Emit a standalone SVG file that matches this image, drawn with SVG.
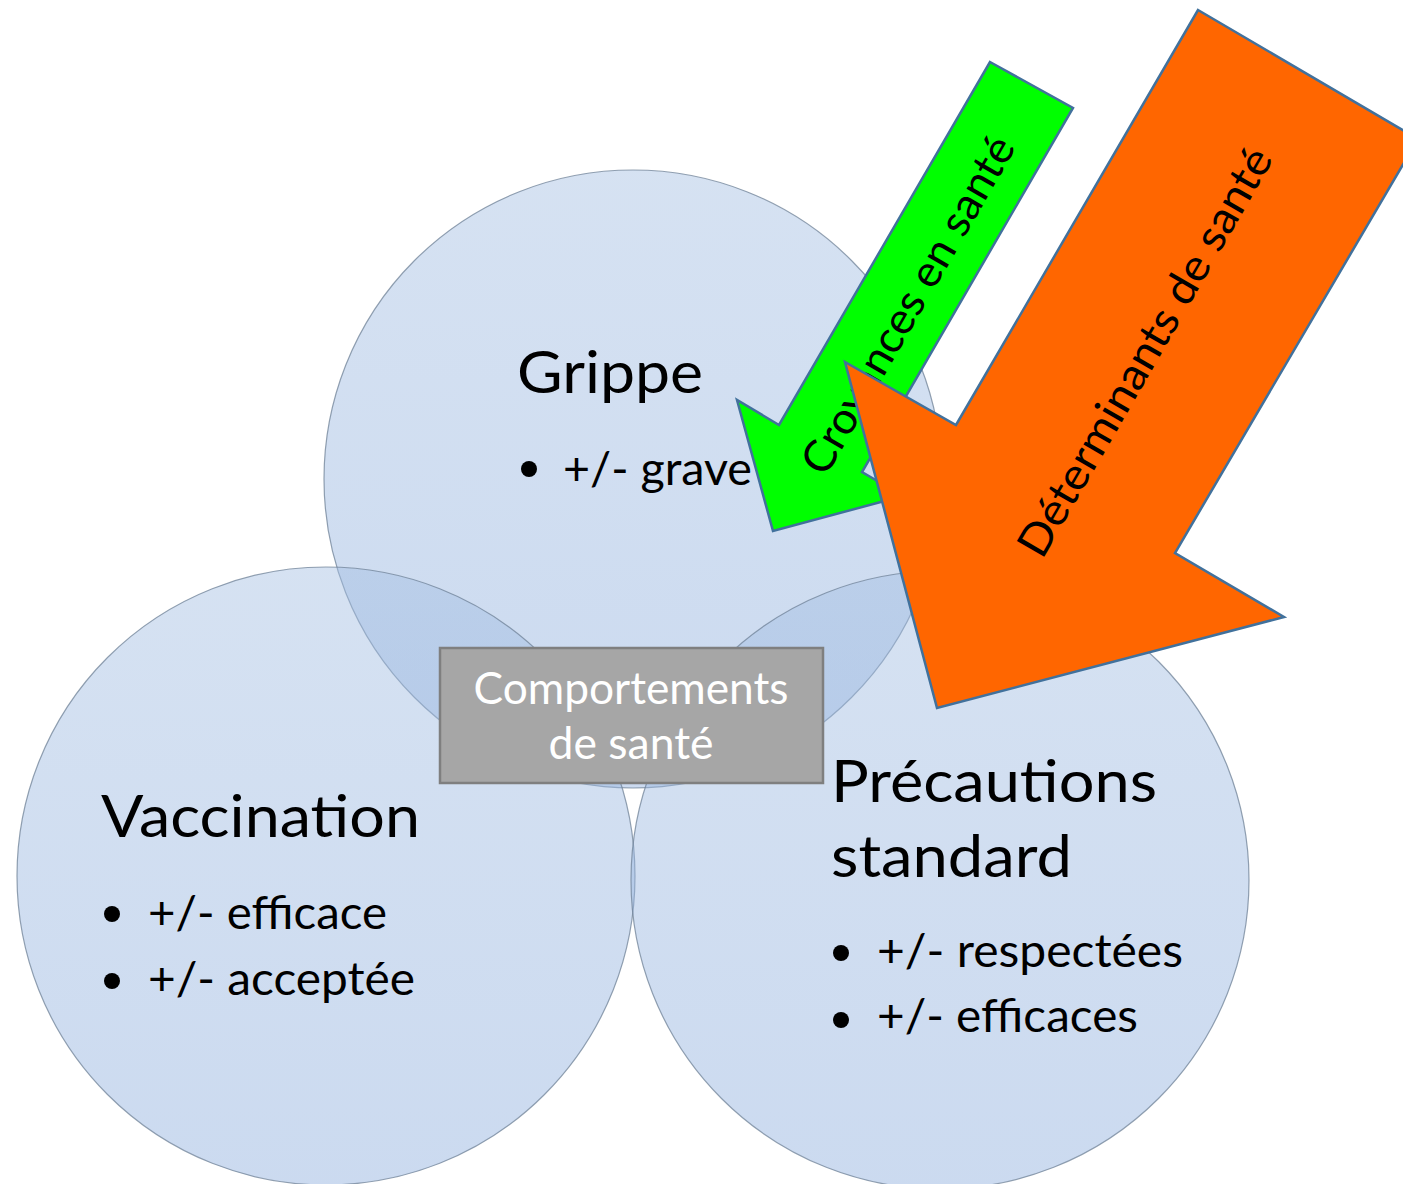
<svg xmlns="http://www.w3.org/2000/svg" width="1403" height="1184" viewBox="0 0 1403 1184">
  <defs>
    <linearGradient id="bubbleFill" x1="0" y1="0" x2="0" y2="1">
      <stop offset="0" stop-color="#A3BEE2"/>
      <stop offset="1" stop-color="#8CADDD"/>
    </linearGradient>
    <style>
      .bubble { fill: url(#bubbleFill); fill-opacity: 0.45; stroke: #6F8197; stroke-opacity: 0.75; stroke-width: 1.2; }
      .title { font-family: Lato, "Open Sans", "Liberation Sans", sans-serif; font-size: 58px; fill: #000; }
      .item { font-family: Lato, "Open Sans", "Liberation Sans", sans-serif; font-size: 46px; fill: #000; }
      .dot { fill: #000; }
      .boxText { font-family: Lato, "Open Sans", "Liberation Sans", sans-serif; font-size: 44px; fill: #FFFFFF; text-anchor: middle; }
      .arrowText { font-family: Lato, "Open Sans", "Liberation Sans", sans-serif; font-size: 44px; fill: #000; text-anchor: middle; }
      .blockArrow { stroke: #41719C; stroke-width: 2.5; stroke-linejoin: miter; }
    </style>
  </defs>

  <rect width="1403" height="1184" fill="#FFFFFF"/>

  <!-- three overlapping sets -->
  <g id="grippe">
    <circle class="bubble" cx="633" cy="479" r="309"/>
    <text class="title" x="517" y="393" textLength="186" lengthAdjust="spacingAndGlyphs">Grippe</text>
    <circle class="dot" cx="529" cy="469" r="8"/>
    <text class="item" x="563" y="485" textLength="189" lengthAdjust="spacingAndGlyphs">+/- grave</text>
  </g>

  <g id="vaccination">
    <circle class="bubble" cx="326" cy="876" r="309"/>
    <text class="title" x="101" y="837" textLength="319" lengthAdjust="spacingAndGlyphs">Vaccination</text>
    <circle class="dot" cx="112" cy="914" r="8"/>
    <text class="item" x="148" y="929" textLength="239" lengthAdjust="spacingAndGlyphs">+/- efficace</text>
    <circle class="dot" cx="112" cy="981" r="8"/>
    <text class="item" x="148" y="995" textLength="267" lengthAdjust="spacingAndGlyphs">+/- acceptée</text>
  </g>

  <g id="precautions">
    <circle class="bubble" cx="940" cy="880" r="309"/>
    <text class="title" x="831" y="802" textLength="326" lengthAdjust="spacingAndGlyphs">Précautions</text>
    <text class="title" x="831" y="877" textLength="241" lengthAdjust="spacingAndGlyphs">standard</text>
    <circle class="dot" cx="841" cy="953" r="8"/>
    <text class="item" x="877" y="967" textLength="306" lengthAdjust="spacingAndGlyphs">+/- respectées</text>
    <circle class="dot" cx="841" cy="1020" r="8"/>
    <text class="item" x="877" y="1032" textLength="261" lengthAdjust="spacingAndGlyphs">+/- efficaces</text>
  </g>

  <!-- centre label -->
  <g id="comportements">
    <rect x="440" y="648" width="383" height="135" fill="#A6A6A6" stroke="#7F7F7F" stroke-width="2.5"/>
    <text class="boxText" x="631" y="704" textLength="315" lengthAdjust="spacingAndGlyphs">Comportements</text>
    <text class="boxText" x="631" y="759" textLength="165" lengthAdjust="spacingAndGlyphs">de santé</text>
  </g>

  <!-- influences pointing into the sets -->
  <g id="arrows">
    <g id="croyances">
      <polygon class="blockArrow" fill="#00FF00" points="990,62 1073,108 862,472 903,496 773,531 737,400 779,425"/>
      <text class="arrowText" transform="translate(908,305) rotate(-60)" x="0" y="15" textLength="382" lengthAdjust="spacingAndGlyphs">Croyances en santé</text>
    </g>
    <g id="determinants">
      <polygon class="blockArrow" fill="#FF6600" points="1198,10 1418,139 1175,553 1284,617 937,708 845,362 956,425"/>
      <text class="arrowText" transform="translate(1145,352) rotate(-60)" x="0" y="15" textLength="464" lengthAdjust="spacingAndGlyphs">Déterminants de santé</text>
    </g>
  </g>
</svg>
